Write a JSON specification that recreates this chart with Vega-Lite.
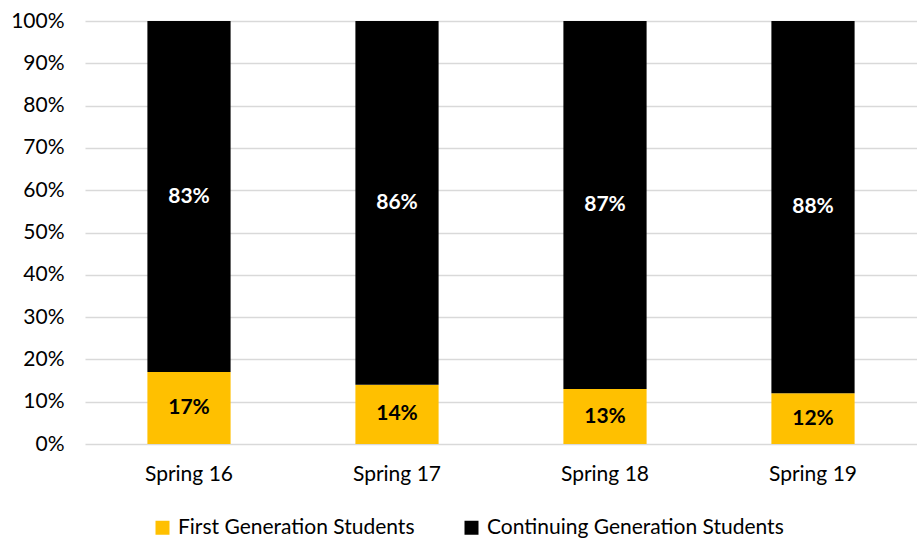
{
  "$schema": "https://vega.github.io/schema/vega-lite/v6.json",
  "width": 832,
  "height": 423,
  "autosize": {"type": "none"},
  "padding": {"left": 85, "top": 21, "right": 0, "bottom": 96},
  "background": "white",
  "config": {
    "view": {"stroke": null},
    "font": "Lato",
    "axis": {"labelFont": "Lato", "labelFontSize": 21, "labelColor": "#000000", "titleFont": "Lato"},
    "legend": {"labelFont": "Lato", "labelFontSize": 21, "labelColor": "#000000"}
  },
  "data": {
    "values": [
      {"term": "Spring 16", "group": "First Generation Students", "ord": 1, "share": 0.17},
      {"term": "Spring 16", "group": "Continuing Generation Students", "ord": 2, "share": 0.83},
      {"term": "Spring 17", "group": "First Generation Students", "ord": 1, "share": 0.14},
      {"term": "Spring 17", "group": "Continuing Generation Students", "ord": 2, "share": 0.86},
      {"term": "Spring 18", "group": "First Generation Students", "ord": 1, "share": 0.13},
      {"term": "Spring 18", "group": "Continuing Generation Students", "ord": 2, "share": 0.87},
      {"term": "Spring 19", "group": "First Generation Students", "ord": 1, "share": 0.12},
      {"term": "Spring 19", "group": "Continuing Generation Students", "ord": 2, "share": 0.88}
    ]
  },
  "transform": [
    {"stack": "share", "groupby": ["term"], "sort": [{"field": "ord", "order": "ascending"}], "as": ["y0", "y1"]},
    {"calculate": "(datum.y0 + datum.y1) / 2", "as": "ymid"}
  ],
  "encoding": {
    "x": {
      "field": "term", "type": "nominal", "title": null,
      "scale": {"paddingInner": 0.6, "paddingOuter": 0.3},
      "axis": {"labelAngle": 0, "ticks": false, "domain": false, "labelPadding": 19, "grid": false}
    }
  },
  "layer": [
    {
      "mark": {"type": "bar"},
      "encoding": {
        "y": {
          "field": "y0", "type": "quantitative", "title": null,
          "scale": {"domain": [0, 1], "nice": false},
          "axis": {"format": ".0%", "values": [0, 0.1, 0.2, 0.3, 0.4, 0.5, 0.6, 0.7, 0.8, 0.9, 1], "ticks": false, "domain": false, "labelPadding": 21, "gridColor": "#d9d9d9", "gridWidth": 1.5}
        },
        "y2": {"field": "y1"},
        "color": {
          "field": "group", "type": "nominal", "title": null,
          "scale": {"domain": ["First Generation Students", "Continuing Generation Students"], "range": ["#FFC000", "#000000"]},
          "legend": {"orient": "none", "legendX": 67, "legendY": 496, "direction": "horizontal", "symbolType": "square", "symbolSize": 196, "symbolStrokeWidth": 0, "symbolOpacity": 1, "columnPadding": 46, "labelOffset": 5, "labelLimit": 0}
        }
      }
    },
    {
      "mark": {"type": "text", "fontWeight": "bold", "fontSize": 21, "font": "Lato"},
      "encoding": {
        "y": {"field": "ymid", "type": "quantitative"},
        "text": {"field": "share", "type": "quantitative", "format": ".0%"},
        "color": {
          "field": "group", "type": "nominal", "legend": null,
          "scale": {"domain": ["First Generation Students", "Continuing Generation Students"], "range": ["#000000", "#ffffff"]}
        }
      }
    }
  ],
  "resolve": {"scale": {"color": "independent"}}
}
